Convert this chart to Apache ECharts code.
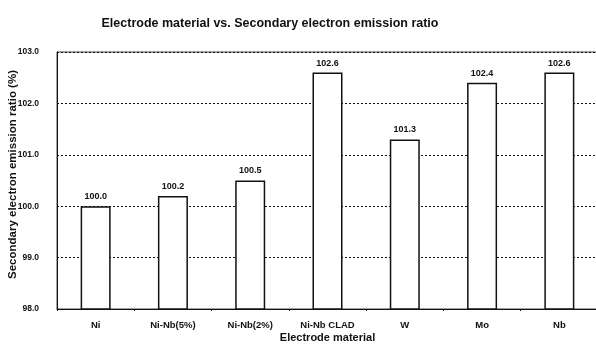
<!DOCTYPE html>
<html>
<head>
<meta charset="utf-8">
<script src="https://cdn.jsdelivr.net/npm/echarts@6/dist/echarts.min.js"></script>
<style>
  html, body { margin: 0; padding: 0; background: #fff; }
  #chart { width: 596px; height: 344px; }
</style>
</head>
<body>
<div id="chart"></div>
<script>
// Secondary electron emission ratio for each electrode material
const materials = ['Ni', 'Ni-Nb(5%)', 'Ni-Nb(2%)', 'Ni-Nb CLAD', 'W', 'Mo', 'Nb'];
const emissionRatio = [100.0, 100.2, 100.5, 102.6, 101.3, 102.4, 102.6];
const yMin = 98, yMax = 103, yStep = 1;

const font = '"Liberation Sans", Arial, sans-serif';
const narrow = '"Liberation Sans Narrow", "Liberation Sans", Arial, sans-serif';
const chart = echarts.init(document.getElementById('chart'), null, { renderer: 'canvas' });

chart.setOption({
  animation: false,
  backgroundColor: '#fff',
  title: {
    text: 'Electrode material vs. Secondary electron emission ratio',
    left: 265,
    textAlign: 'center',
    top: 12,
    textStyle: { fontFamily: font, fontSize: 12.5, fontWeight: 'bold', color: '#111' }
  },
  grid: {
    left: 57, top: 52, width: 541, height: 257,
    outerBoundsMode: 'none',
    containLabel: false,
    show: true, borderColor: '#444', borderWidth: 1, backgroundColor: 'transparent'
  },
  xAxis: {
    type: 'category',
    data: materials,
    name: 'Electrode material',
    nameLocation: 'middle',
    nameGap: 23,
    nameMoveOverlap: false,
    nameTextStyle: { fontFamily: font, fontSize: 11, fontWeight: 'bold', color: '#111' },
    axisLine: { lineStyle: { color: '#111', width: 1 } },
    axisTick: { show: true, length: 2, lineStyle: { color: '#111' } },
    axisLabel: { fontFamily: font, fontSize: 9.5, fontWeight: 'bold', color: '#111', margin: 11 }
  },
  yAxis: {
    type: 'value',
    min: yMin, max: yMax, interval: yStep,
    name: 'Secondary electron emission ratio (%)',
    nameLocation: 'middle',
    nameGap: 38,
    nameMoveOverlap: false,
    nameTextStyle: { fontFamily: font, fontSize: 11.5, fontWeight: 'bold', color: '#111', padding: [0, 0, 0, 12] },
    axisLine: { show: true, lineStyle: { color: '#111', width: 1 } },
    axisTick: { show: false },
    axisLabel: {
      fontFamily: narrow, fontSize: 8.5, fontWeight: 'bold', color: '#111', margin: 18,
      formatter: v => v.toFixed(1)
    },
    splitLine: { show: true, lineStyle: { color: '#111', type: [2, 2], width: 1 } }
  },
  series: [{
    type: 'bar',
    data: emissionRatio,
    barWidth: 30,
    itemStyle: { color: '#fff', borderColor: '#111', borderWidth: 1.5 },
    label: {
      show: true, position: 'top', distance: 5,
      fontFamily: font, fontSize: 9, fontWeight: 'bold', color: '#111',
      formatter: p => p.value.toFixed(1)
    }
  }]
});
</script>
</body>
</html>
